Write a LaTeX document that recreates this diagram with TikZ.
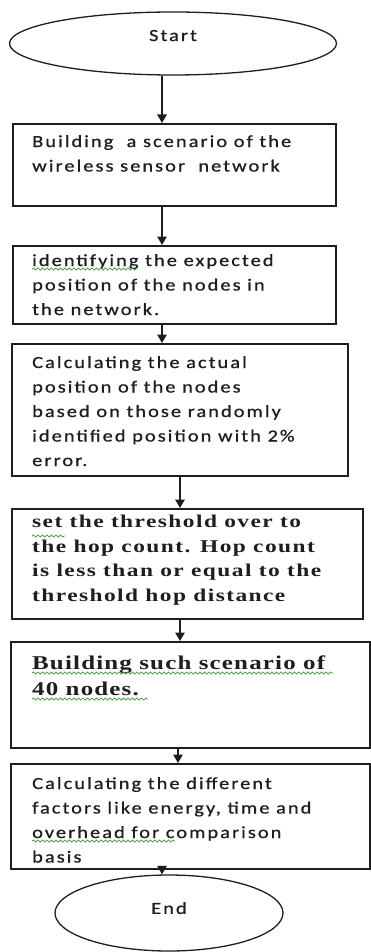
\documentclass[tikz,border=0pt]{standalone}
\usepackage{fontspec}
\usetikzlibrary{arrows.meta,shapes.geometric,decorations.pathmorphing}
\newfontfamily\bodyfont[LetterSpace=12,FakeStretch=1.2,FakeBold=0.8]{Carlito}
\newfontfamily\slabfont[LetterSpace=8,FakeStretch=1.3]{Liberation Serif}
\newfontfamily\bigslabfont[LetterSpace=6,FakeStretch=1.28]{Liberation Serif}
\definecolor{ink}{HTML}{1E1E1E}
\definecolor{squiggle}{HTML}{3A9A3A}
\tikzset{
  stepbox/.style={draw=ink, line width=1.6pt, anchor=north west, inner sep=0pt},
  flowend/.style={draw=ink, line width=1.3pt, ellipse, inner sep=0pt, text=ink},
  txt/.style={anchor=north west, align=left, inner sep=0pt, text=ink,
    font=\bodyfont\fontsize{17}{24.5}\selectfont},
  stxt/.style={anchor=north west, align=left, inner sep=0pt, text=ink,
    font=\slabfont\bfseries\fontsize{18}{24.5}\selectfont},
  btxt/.style={anchor=north west, align=left, inner sep=0pt, text=ink,
    font=\bigslabfont\bfseries\fontsize{19.5}{26}\selectfont},
  arr/.style={draw=ink, line width=1.4pt, -{Triangle[width=9.5pt,length=8.5pt]}},
  spell/.style={draw=squiggle, line width=0.7pt,
    decorate, decoration={snake, amplitude=1.1pt, segment length=4.5pt}}
}
\begin{document}
\begin{tikzpicture}[x=1pt,y=-1pt]
\useasboundingbox (0,0) rectangle (370,952);

% terminals
\node[flowend, minimum width=327pt, minimum height=63pt] (start) at (173,43.5)
  {\bodyfont\fontsize{17}{18}\selectfont\raisebox{16pt}{Start}};
\node[flowend, minimum width=228pt, minimum height=76pt] (stop) at (169,913)
  {\bodyfont\fontsize{17}{18}\selectfont\raisebox{10pt}{End}};

% process boxes
\node[stepbox, minimum width=323pt, minimum height=82pt]  (b1) at (12,123) {};
\node[stepbox, minimum width=323pt, minimum height=78pt]  (b2) at (12,245) {};
\node[stepbox, minimum width=336pt, minimum height=132pt] (b3) at (11,343) {};
\node[stepbox, minimum width=351pt, minimum height=110pt] (b4) at (11,508) {};
\node[stepbox, minimum width=359pt, minimum height=106pt] (b5) at (10,641) {};
\node[stepbox, minimum width=359pt, minimum height=105pt] (b6) at (10,763) {};

% box texts
\node[txt] (t1) at (32,135) {Building\ \ a scenario of the\\wireless sensor\ \ network};
\node[txt] (t2) at (32,254) {identifying the expected\\position of the nodes in\\the network.};
\node[txt] (t3) at (32,356) {Calculating the actual\\position of the nodes\\based on those randomly\\identified position with 2\%\\error.};
\node[stxt] (t4) at (32,515) {set the threshold over to\\the hop count. Hop count\\is less than or equal to the\\threshold hop distance};
\node[btxt] (t5) at (32,656) {Building such scenario of\\40 nodes.};
\node[txt] (t6) at (32,777) {Calculating the different\\factors like energy, time and\\overhead for comparison\\basis};

% spell-check marks
\draw[spell] (32,269) -- (137,269);
\draw[spell] (32,536) -- (65,536);
\draw[spell] (32,673) -- (333,673);
\draw[spell] (32,699) -- (148,699);
\draw[spell] (32,841) -- (175,841);

% connectors
\draw[arr] (start.south -| 162,0) -- (b1.north -| 162,0);
\draw[arr] (b1.south -| 162,0) -- (b2.north -| 162,0);
\draw[arr] (b2.south -| 162,0) -- (b3.north -| 162,0);
\draw[arr] (b3.south -| 180,0) -- (b4.north -| 180,0);
\draw[arr] (b4.south -| 180,0) -- (b5.north -| 180,0);
\draw[arr] (b5.south -| 178,0) -- (b6.north -| 178,0);
\draw[arr] (b6.south -| 162,0) -- (stop.north -| 162,0);
\end{tikzpicture}
\end{document}
